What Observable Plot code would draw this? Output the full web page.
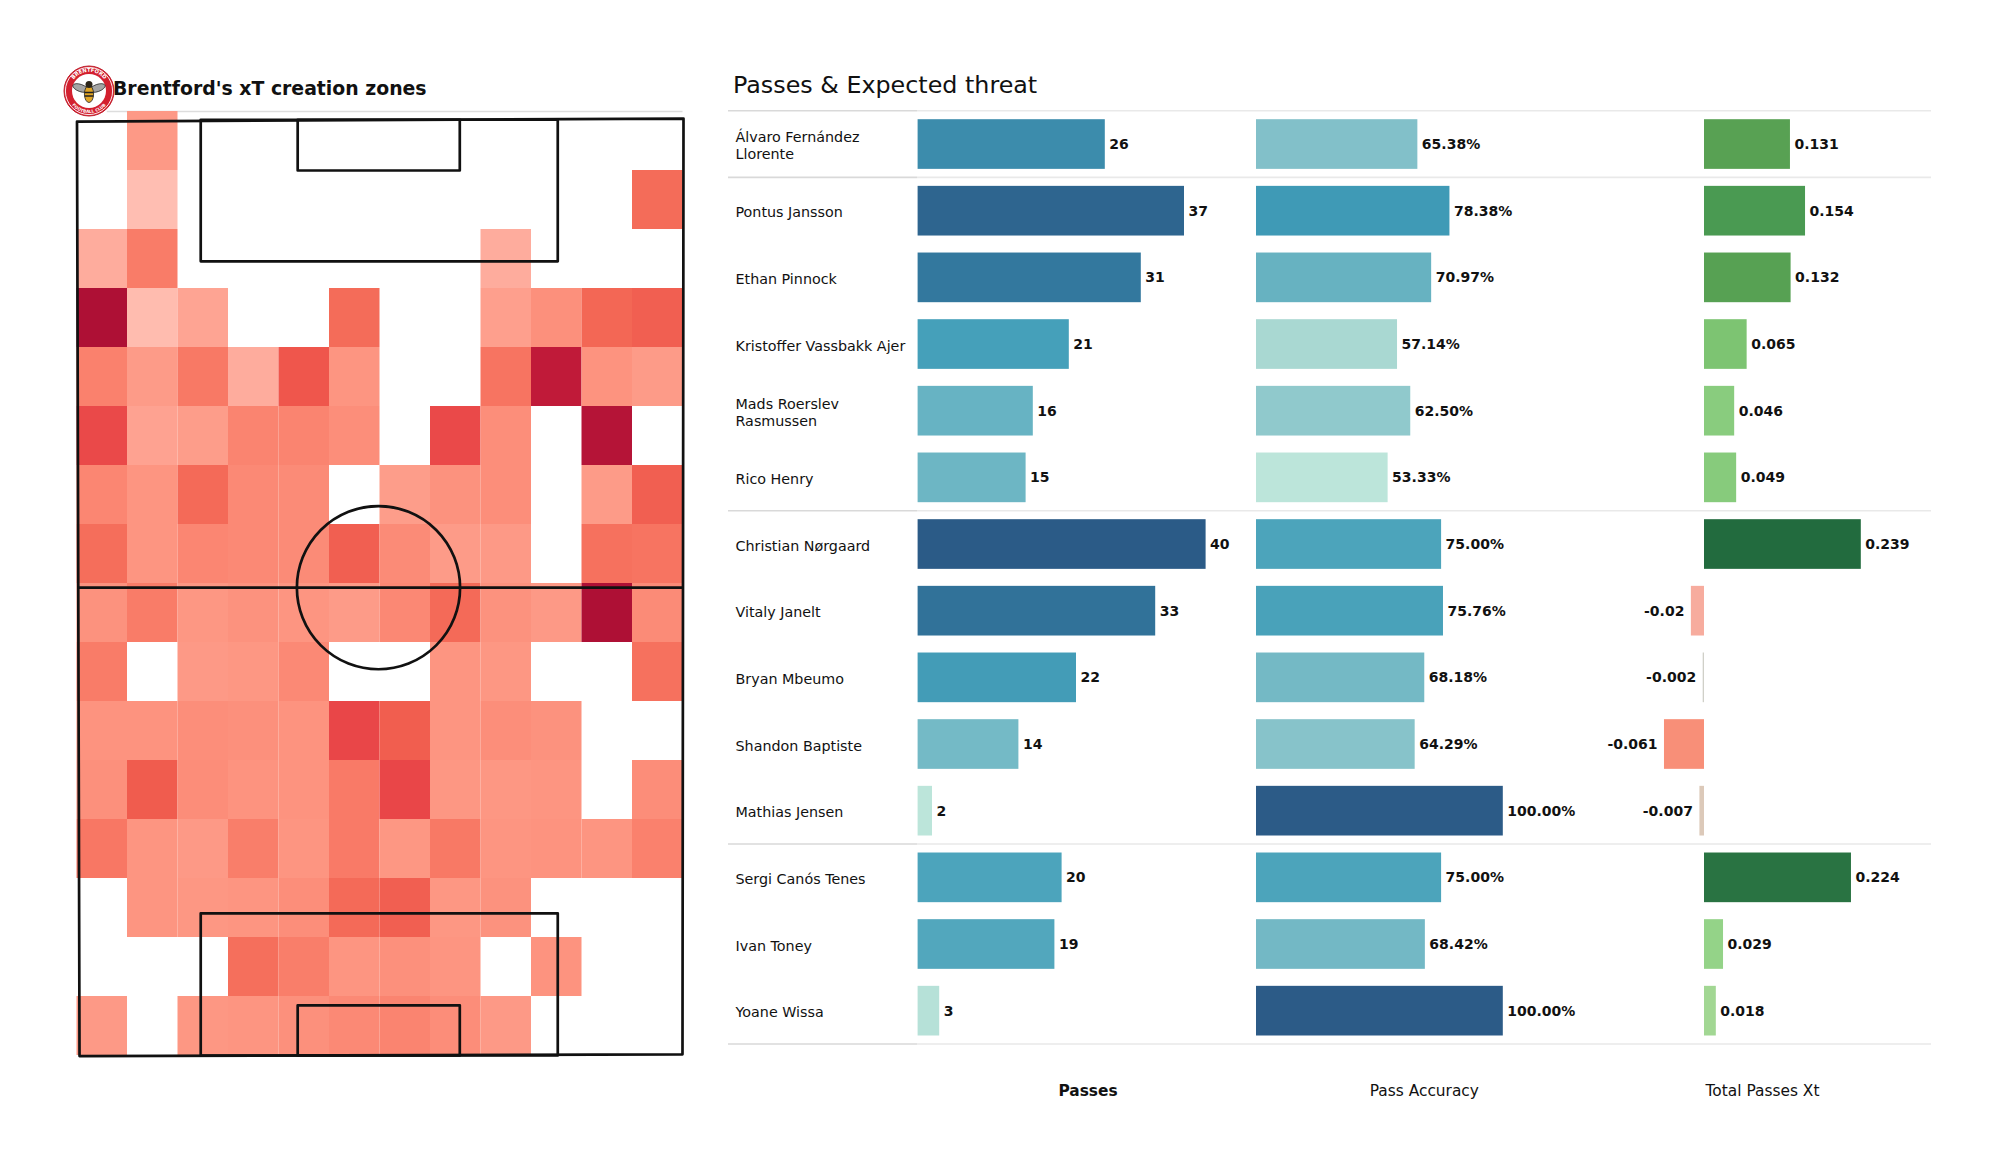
<!DOCTYPE html>
<html>
<head>
<meta charset="utf-8">
<script src="https://cdn.jsdelivr.net/npm/d3@7"></script>
<script src="https://cdn.jsdelivr.net/npm/@observablehq/plot@0.6"></script>
<style>
  html,body{margin:0;padding:0;background:#fff;}
  #page{position:relative;width:2000px;height:1175px;overflow:hidden;font-family:"DejaVu Sans",sans-serif;color:#111;}
  #page svg.layer{position:absolute;left:0;top:0;overflow:visible;}
  .head{position:absolute;white-space:nowrap;line-height:1;}
</style>
</head>
<body>
<div id="page">
  <div class="head" style="left:113px;top:80px;font-size:18.85px;font-weight:bold;">Brentford's xT creation zones</div>
  <div class="head" style="left:733px;top:74px;font-size:23.8px;">Passes &amp; Expected threat</div>
  <svg id="logo" style="position:absolute;left:60px;top:62px;z-index:3" width="58" height="58" viewBox="-29 -29 58 58">
    <circle r="25" fill="#d3202f" stroke="#c01f2d"/>
    <circle r="23.6" fill="none" stroke="#fff" stroke-width="0.9"/>
    <circle r="17" fill="#fff"/>
    <path id="arcTop" d="M-19.2 0A19.2 19.2 0 0 1 19.2 0" fill="none"/>
    <path id="arcBot" d="M-22 0A22 22 0 0 0 22 0" fill="none"/>
    <text font-size="5.2" font-weight="bold" fill="#fff" text-anchor="middle"><textPath href="#arcTop" startOffset="50%">BRENTFORD</textPath></text>
    <text font-size="4.2" font-weight="bold" fill="#fff" text-anchor="middle"><textPath href="#arcBot" startOffset="50%">FOOTBALL CLUB</textPath></text>
    <ellipse cx="-8.5" cy="-3" rx="8" ry="3.6" transform="rotate(20 -8.5 -3)" fill="#a5a5a5" stroke="#222" stroke-width=".7"/>
    <ellipse cx="8.5" cy="-3" rx="8" ry="3.6" transform="rotate(-20 8.5 -3)" fill="#a5a5a5" stroke="#222" stroke-width=".7"/>
    <ellipse cy="3" rx="4.6" ry="8.5" fill="#e0a526" stroke="#222" stroke-width=".8"/>
    <path d="M-4.4 1.5H4.4M-4.4 5H4.4" stroke="#222" stroke-width="1.6"/>
    <circle cy="-6.5" r="3.5" fill="#2b2418"/>
  </svg>
</div>
<script>
// ---------- Left panel: xT creation zones (12 columns, 16 rows, top row first) ----------
const zoneRow00 = [null, .28, null, null, null, null, null, null, null, null, null, null];
const zoneRow01 = [null, .03, null, null, null, null, null, null, null, null, null, .55];
const zoneRow02 = [.17, .45, null, null, null, null, null, null, .17, null, null, null];
const zoneRow03 = [1.0, .05, .22, null, null, .55, null, null, .25, .33, .58, .62];
const zoneRow04 = [.42, .27, .47, .17, .68, .30, null, null, .50, .92, .31, .27];
const zoneRow05 = [.78, .23, .26, .40, .40, .34, null, .78, .34, null, .97, null];
const zoneRow06 = [.39, .30, .56, .37, .36, null, .26, .32, .34, null, .27, .62];
const zoneRow07 = [.54, .30, .39, .37, .36, .62, .36, .27, .28, null, .52, .50];
const zoneRow08 = [.32, .45, .29, .32, .30, .27, .38, .56, .32, .28, 1.0, .36];
const zoneRow09 = [.45, null, .28, .29, .37, null, null, .30, .29, null, null, .52];
const zoneRow10 = [.31, .31, .34, .33, .31, .80, .63, .30, .34, .32, null, null];
const zoneRow11 = [.33, .64, .35, .31, .31, .46, .80, .29, .29, .30, null, .35];
const zoneRow12 = [.48, .30, .28, .44, .30, .46, .29, .47, .30, .31, .30, .42];
const zoneRow13 = [null, .30, .29, .30, .34, .56, .62, .29, .32, null, null, null];
const zoneRow14 = [null, null, null, .53, .44, .30, .33, .30, null, .31, null, null];
const zoneRow15 = [.28, null, .29, .30, .33, .37, .40, .35, .28, null, null, null];
const zoneRows = [zoneRow00, zoneRow01, zoneRow02, zoneRow03, zoneRow04, zoneRow05, zoneRow06, zoneRow07,
                  zoneRow08, zoneRow09, zoneRow10, zoneRow11, zoneRow12, zoneRow13, zoneRow14, zoneRow15];
const zoneStops  = [0, .2, .3, .45, .55, .65, .8, .92, 1];
const zoneColors = ["#ffc2b7", "#fea898", "#fd9581", "#f97c68", "#f46c59", "#f05a4d", "#e94648", "#c01a39", "#ae1035"];

// Pitch outline in grid units (column, row)
const outlineCol = [0.0, 12.01, 11.99, 0.05, 0.0];
const outlineRow = [0.17, 0.12, 15.98, 16.01, 0.17];
const halfwayRow = 8.07;
const circleCol = 5.97;
const boxCols = [2.45, 9.52];
const sixCols = [4.37, 7.58];
const boxTop = [0.14, 2.54];
const sixTop = [0.14, 1.0];
const boxBottom = [13.59, 16.0];
const sixBottom = [15.15, 16.0];

// ---------- Right panel ----------
const players = ["Álvaro Fernández\nLlorente", "Pontus Jansson", "Ethan Pinnock", "Kristoffer Vassbakk Ajer",
  "Mads Roerslev\nRasmussen", "Rico Henry", "Christian Nørgaard", "Vitaly Janelt", "Bryan Mbeumo",
  "Shandon Baptiste", "Mathias Jensen", "Sergi Canós Tenes", "Ivan Toney", "Yoane Wissa"];
const passes   = [26, 37, 31, 21, 16, 15, 40, 33, 22, 14, 2, 20, 19, 3];
const accuracy = [65.38, 78.38, 70.97, 57.14, 62.50, 53.33, 75.00, 75.76, 68.18, 64.29, 100.00, 75.00, 68.42, 100.00];
const xtValues = [0.131, 0.154, 0.132, 0.065, 0.046, 0.049, 0.239, -0.02, -0.002, -0.061, -0.007, 0.224, 0.029, 0.018];
const groupBreaks = [-0.5, 0.5, 5.5, 10.5, 13.5];

const passStops  = [2, 14, 21, 31, 40];
const passColors = ["#bce5da", "#74bac6", "#45a0ba", "#33789e", "#2b5b87"];
const accStops   = [53.33, 57.14, 62.5, 65.38, 70.97, 75, 78.38, 100];
const accColors  = ["#bce5da", "#a9d8d2", "#90c9cc", "#82c0c9", "#67b2c1", "#4ca4bb", "#3f9ab6", "#2c5b87"];
const xtStops    = [-0.061, -0.02, -0.007, -0.002, 0.018, 0.029, 0.065, 0.131, 0.154, 0.239];
const xtColors   = ["#f88f78", "#f7ac9e", "#dcc9b9", "#d0d0c8", "#a2d793", "#94d388", "#7dc472", "#58a153", "#4a9a52", "#226b3e"];

const table = players.map((name, row) => ({name, row, passes: passes[row], accuracy: accuracy[row], xt: xtValues[row]}));
const W = 2000, H = 1175, FONT = '"DejaVu Sans", sans-serif', INK = "#111";
const barHalf = 0.3725, titleRow = 14.205;
const yRows = {domain: [-0.5, 13.5], range: [110.2, 1043.5], axis: null};
const yBars = {domain: [-0.5, 13.5], range: [110.7, 1044], axis: null};
const page = document.getElementById("page");

function add(plot) { plot.classList.add("layer"); page.appendChild(plot); }
const base = {width: W, height: H, style: {background: "transparent", fontFamily: FONT, overflow: "visible"}};

// Heat map and pitch
const zones = zoneRows.flatMap((vals, row) => vals.map((v, col) => ({col, row, v}))).filter(d => d.v !== null);
const pitchLine = {stroke: INK, strokeWidth: 2.7};
const boxLine = (cols, rows) => Plot.line(
  [[cols[0], rows[0]], [cols[0], rows[1]], [cols[1], rows[1]], [cols[1], rows[0]], [cols[0], rows[0]]], pitchLine);
add(Plot.plot({...base,
  x: {domain: [0, 12], range: [76.5, 682.5], axis: null},
  y: {domain: [0, 16], range: [111, 1055], axis: null},
  color: {type: "linear", domain: zoneStops, range: zoneColors},
  marks: [
    Plot.ruleY([0], {x1: 0.6, x2: 12, stroke: "#dddddd", strokeWidth: 1.5}),
    Plot.rect(zones, {x1: "col", x2: d => d.col + 1, y1: "row", y2: d => d.row + 1, fill: "v"}),
    Plot.line(outlineCol.map((c, i) => [c, outlineRow[i]]), pitchLine),
    Plot.ruleY([halfwayRow], {x1: 0.02, x2: 12, ...pitchLine}),
    boxLine(boxCols, boxTop), boxLine(sixCols, sixTop),
    boxLine(boxCols, boxBottom), boxLine(sixCols, sixBottom),
    Plot.dot([[circleCol, halfwayRow]], {r: 81.6, fill: "none", ...pitchLine})
  ]
}));

// Separator rules
add(Plot.plot({...base, marginLeft: 728, marginRight: W - 917, x: {axis: null}, y: yRows,
  marks: [Plot.ruleY(groupBreaks, {stroke: "#d9d9d9", strokeWidth: 1.6})]}));
add(Plot.plot({...base, marginLeft: 917, marginRight: W - 1931, x: {axis: null}, y: yRows,
  marks: [Plot.ruleY(groupBreaks, {stroke: "#e9e9e9", strokeWidth: 1.6})]}));

// Player names
add(Plot.plot({...base, marginLeft: 735, marginRight: W - 917, x: {axis: null}, y: yRows,
  marks: [Plot.text(table, {frameAnchor: "left", y: "row", text: "name", textAnchor: "start", lineHeight: 1.2,
    fontSize: 14.3, dy: 1, fill: INK, fontFamily: FONT})]}));

// One bar column: value bars, value labels, column title
function panel(key, xDomain, xRange, stops, colors, label, titleAt, title, bold) {
  add(Plot.plot({...base,
    x: {domain: xDomain, range: xRange, axis: null},
    y: yBars,
    color: {type: "linear", domain: stops, range: colors},
    marks: [
      Plot.rect(table, {x1: () => 0, x2: key, y1: d => d.row - barHalf, y2: d => d.row + barHalf, fill: key}),
      Plot.text(table, {x: key, y: "row", text: label,
        textAnchor: "start", dx: 4, fontSize: 14, fontWeight: "bold", fill: INK, fontFamily: FONT,
        filter: d => d[key] >= 0}),
      Plot.text(table, {x: key, y: "row", text: label,
        textAnchor: "end", dx: -7, fontSize: 14, fontWeight: "bold", fill: INK, fontFamily: FONT,
        filter: d => d[key] < 0}),
      Plot.text([title], {x: () => titleAt, y: () => titleRow, text: d => d, fontSize: 15.4, fill: INK,
        fontWeight: bold ? "bold" : "normal", fontFamily: FONT})
    ]
  }));
}
panel("passes", [0, 40], [917.6, 1205.6], passStops, passColors, d => String(d.passes), 23.6, "Passes", true);
panel("accuracy", [0, 100], [1256, 1502.8], accStops, accColors, d => d.accuracy.toFixed(2) + "%", 68, "Pass Accuracy", false);
panel("xt", [0, 0.239], [1704, 1860.8], xtStops, xtColors, d => String(d.xt), 0.0884, "Total Passes Xt", false);
</script>
</body>
</html>
